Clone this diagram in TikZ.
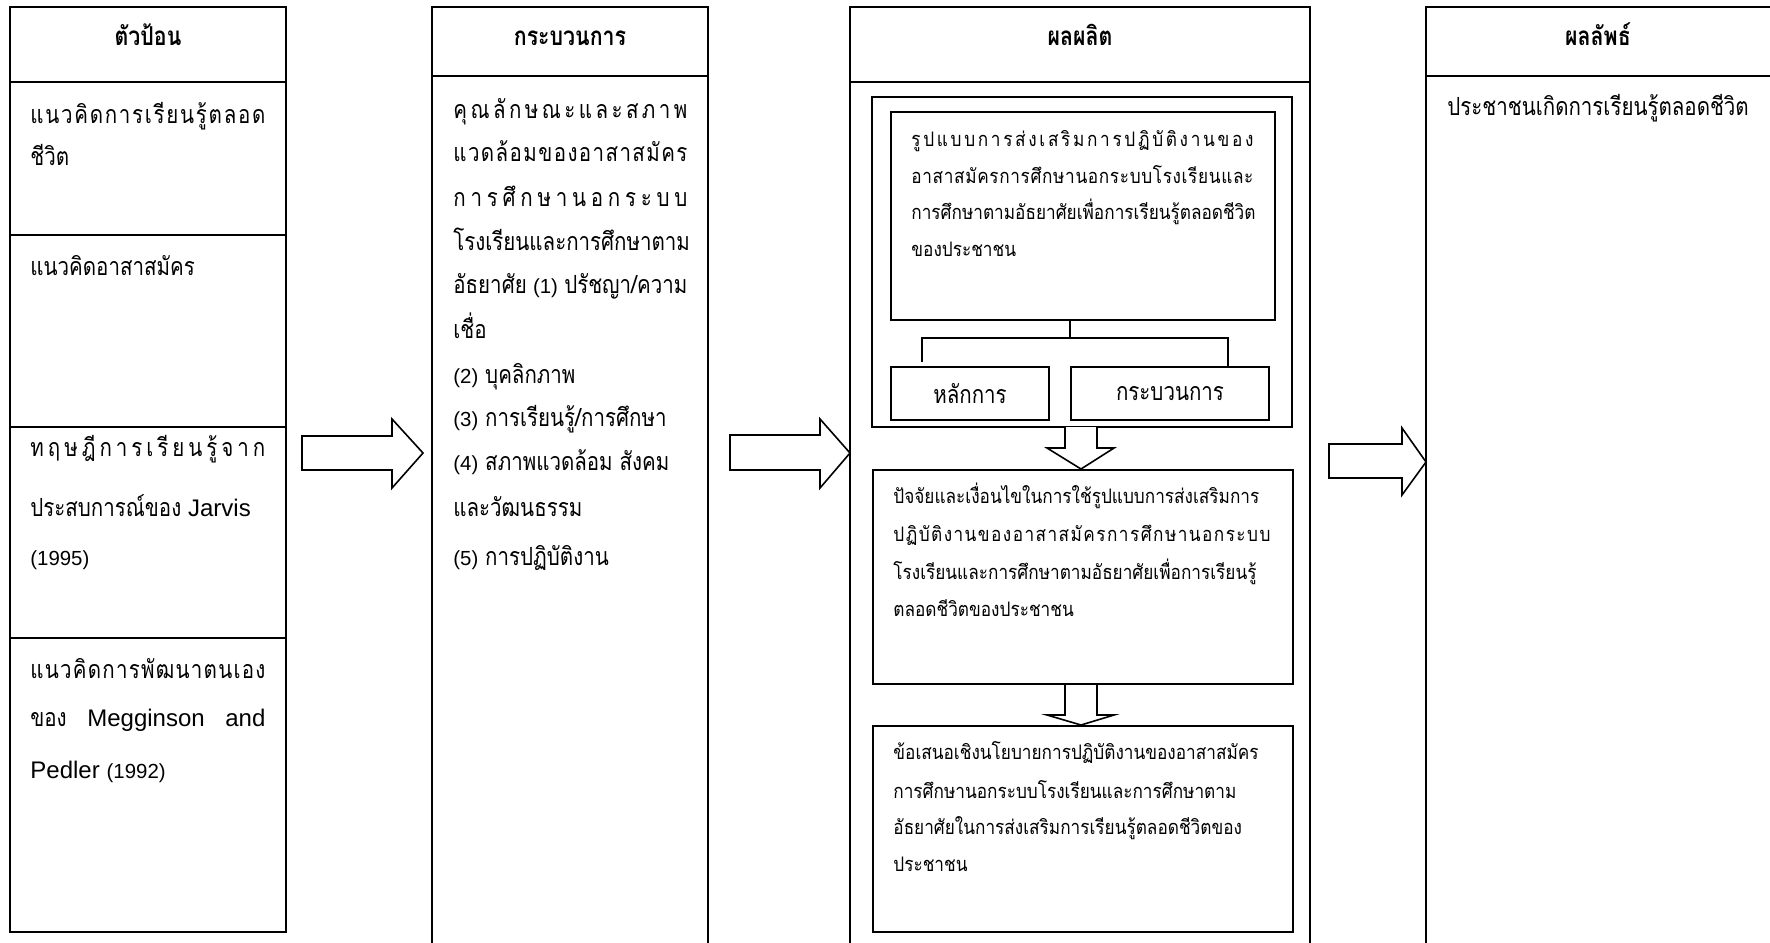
\documentclass[tikz,border=0pt]{standalone}
\usepackage{fontspec}
\setmainfont{Liberation Sans}
\newfontfamily\thai[Script=Thai,FakeStretch=0.82]{Loma}
\newfontfamily\thais[Script=Thai,FakeStretch=0.86]{Loma}
\usetikzlibrary{positioning}
\tikzset{
  frame/.style={line width=1pt},
  boxed/.style={draw,line width=1pt,rectangle,inner sep=0pt},
  blockarrow/.style={draw,line width=0.8pt,fill=white,line join=miter},
  tline/.style={anchor=base west,inner sep=0pt,font=\thai\fontsize{12.5}{14}\selectfont},
  sline/.style={anchor=base west,inner sep=0pt,font=\thais\fontsize{10}{12}\selectfont},
  head/.style={anchor=base,inner sep=0pt,font=\thai\bfseries\fontsize{13}{14}\selectfont},
  boxlabel/.style={boxed,anchor=north west,font=\thai\fontsize{12.5}{14}\selectfont},
}
\newcommand{\lat}[1]{{\rmfamily\fontsize{12}{13}\selectfont #1}}
\newcommand{\num}[1]{{\rmfamily\fontsize{10.2}{12}\selectfont #1}}
\newcommand{\g}{\hfil}
\newcommand{\spread}[2]{\hbox to #1pt{#2}}
\begin{document}
\begin{tikzpicture}[x=0.5pt,y=-0.5pt]
\useasboundingbox (0,0) rectangle (1770,942);
% ---------- column frames ----------
\draw[frame] (10,7) rectangle (286,932);
\draw[frame] (10,82) -- (286,82);
\draw[frame] (10,235) -- (286,235);
\draw[frame] (10,427) -- (286,427);
\draw[frame] (10,638) -- (286,638);

\draw[frame] (432,950) -- (432,7) -- (708,7) -- (708,950);
\draw[frame] (432,76) -- (708,76);

\draw[frame] (850,950) -- (850,7) -- (1310,7) -- (1310,950);
\draw[frame] (850,82) -- (1310,82);

\draw[frame] (1426,950) -- (1426,7) -- (1780,7);
\draw[frame] (1426,76) -- (1780,76);

% ---------- headers ----------
\node[head] (h1) at (148,45) {ตัวป้อน};
\node[head] (h2) at (570,45) {กระบวนการ};
\node[head] (h3) at (1080,45) {ผลผลิต};
\node[head] (h4) at (1598,45) {ผลลัพธ์};

% ---------- column 1 ----------
\node[tline] (c1a) at (30,123) {\spread{117.5}{แ\g น\g ว\g คิ\g ด\g ก\g า\g ร\g เ\g รี\g ย\g น\g รู้\g ต\g ล\g อ\g ด}};
\node[tline] (c1b) at (30,165) {ชีวิต};
\node[tline] (c1c) at (30,275) {แนวคิดอาสาสมัคร};
\node[tline] (c1d) at (30,456) {\spread{117.5}{ท\g ฤ\g ษ\g ฎี\g ก\g า\g ร\g เ\g รี\g ย\g น\g รู้\g จ\g า\g ก}};
\node[tline] (c1e) at (30,516) {ประสบการณ์ของ \lat{Jarvis}};
\node[tline] (c1f) at (30,565) {\num{(1995)}};
\node[tline] (c1g) at (30,678) {\spread{117.5}{แ\g น\g ว\g คิ\g ด\g ก\g า\g ร\g พั\g ฒ\g น\g า\g ต\g น\g เ\g อ\g ง}};
\node[tline] (c1h) at (30,726) {\spread{117.5}{ของ\hfil\lat{Megginson}\hfil\lat{and}}};
\node[tline] (c1i) at (30,778) {\lat{Pedler} \num{(1992)}};

% ---------- column 2 ----------
\node[tline] (c2a) at (453,118) {\spread{117}{คุ\g ณ\g ลั\g ก\g ษ\g ณ\g ะ\g แ\g ล\g ะ\g ส\g ภ\g า\g พ}};
\node[tline] (c2b) at (453,161) {\spread{117}{แ\g ว\g ด\g ล้\g อ\g ม\g ข\g อ\g ง\g อ\g า\g ส\g า\g ส\g มั\g ค\g ร}};
\node[tline] (c2c) at (453,206) {\spread{117}{ก\g า\g ร\g ศึ\g ก\g ษ\g า\g น\g อ\g ก\g ร\g ะ\g บ\g บ}};
\node[tline] (c2d) at (453,250) {โรงเรียนและการศึกษาตาม};
\node[tline] (c2e) at (453,293) {\spread{117}{อัธยาศัย\hfil\num{(1)}\hfil ปรัชญา/ความ}};
\node[tline] (c2f) at (453,338) {เชื่อ};
\node[tline] (c2g) at (453,383) {\num{(2)} บุคลิกภาพ};
\node[tline] (c2h) at (453,426) {\num{(3)} การเรียนรู้/การศึกษา};
\node[tline] (c2i) at (453,470) {\num{(4)} สภาพแวดล้อม สังคม};
\node[tline] (c2j) at (453,516) {และวัฒนธรรม};
\node[tline] (c2k) at (453,565) {\num{(5)} การปฏิบัติงาน};

% ---------- column 3 ----------
\draw[frame] (872,97) rectangle (1292,427);
\node[boxed,anchor=north west,minimum width=384*0.5pt,minimum height=208*0.5pt] (model) at (890,111) {};
\node[sline] at (911,146) {\spread{171}{รู\g ป\g แ\g บ\g บ\g ก\g า\g ร\g ส่\g ง\g เ\g ส\g ริ\g ม\g ก\g า\g ร\g ป\g ฏิ\g บั\g ติ\g ง\g า\g น\g ข\g อ\g ง}};
\node[sline] at (911,183) {\spread{171}{อ\g า\g ส\g า\g ส\g มั\g ค\g ร\g ก\g า\g ร\g ศึ\g ก\g ษ\g า\g น\g อ\g ก\g ร\g ะ\g บ\g บ\g โ\g ร\g ง\g เ\g รี\g ย\g น\g แ\g ล\g ะ}};
\node[sline] at (911,219) {การศึกษาตามอัธยาศัยเพื่อการเรียนรู้ตลอดชีวิต};
\node[sline] at (911,256) {ของประชาชน};
\node[boxlabel,minimum width=158*0.5pt,minimum height=53*0.5pt] (prin) at (890,366) {หลักการ};
\node[boxlabel,minimum width=198*0.5pt,minimum height=53*0.5pt] (proc) at (1070,366) {กระบวนการ};
\coordinate (jn) at (1070,338);
\coordinate (jl) at (922,362);
\coordinate (jr) at (1228,366);
\draw[line width=1pt] (model.south -| jn) -- (jn);
\draw[line width=1pt] (jl) -- (jl |- jn) -- (jr |- jn) -- (jr);

\node[boxed,anchor=north west,minimum width=420*0.5pt,minimum height=214*0.5pt] (factor) at (872,469) {};
\node[sline] at (893,503) {ปัจจัยและเงื่อนไขในการใช้รูปแบบการส่งเสริมการ};
\node[sline] at (893,541) {\spread{188.5}{ป\g ฏิ\g บั\g ติ\g ง\g า\g น\g ข\g อ\g ง\g อ\g า\g ส\g า\g ส\g มั\g ค\g ร\g ก\g า\g ร\g ศึ\g ก\g ษ\g า\g น\g อ\g ก\g ร\g ะ\g บ\g บ}};
\node[sline] at (893,579) {โรงเรียนและการศึกษาตามอัธยาศัยเพื่อการเรียนรู้};
\node[sline] at (893,616) {ตลอดชีวิตของประชาชน};

\node[boxed,anchor=north west,minimum width=420*0.5pt,minimum height=206*0.5pt] (policy) at (872,725) {};
\node[sline] at (893,759) {ข้อเสนอเชิงนโยบายการปฏิบัติงานของอาสาสมัคร};
\node[sline] at (893,798) {การศึกษานอกระบบโรงเรียนและการศึกษาตาม};
\node[sline] at (893,834) {อัธยาศัยในการส่งเสริมการเรียนรู้ตลอดชีวิตของ};
\node[sline] at (893,871) {ประชาชน};

% down block arrows
\draw[blockarrow] (1065,427) -- (1065,448) -- (1047,448) -- (1081,469) -- (1114,448) -- (1097,448) -- (1097,427);
\draw[blockarrow] (factor.south -| 1065,0) -- (1065,715) -- (1047,715) -- (policy.north -| 1081,0) -- (1114,715) -- (1097,715) -- (factor.south -| 1097,0);

% ---------- column 4 ----------
\node[tline] (c4a) at (1447,115) {ประชาชนเกิดการเรียนรู้ตลอดชีวิต};

% ---------- right block arrows ----------
\draw[blockarrow] (302,436) -- (392,436) -- (392,419) -- (423,453) -- (392,488) -- (392,470) -- (302,470) -- cycle;
\draw[blockarrow] (730,435) -- (820,435) -- (820,419) -- (850,453) -- (820,488) -- (820,470) -- (730,470) -- cycle;
\draw[blockarrow] (1329,444) -- (1402,444) -- (1402,428) -- (1426,462) -- (1402,495) -- (1402,478) -- (1329,478) -- cycle;
\end{tikzpicture}
\end{document}
